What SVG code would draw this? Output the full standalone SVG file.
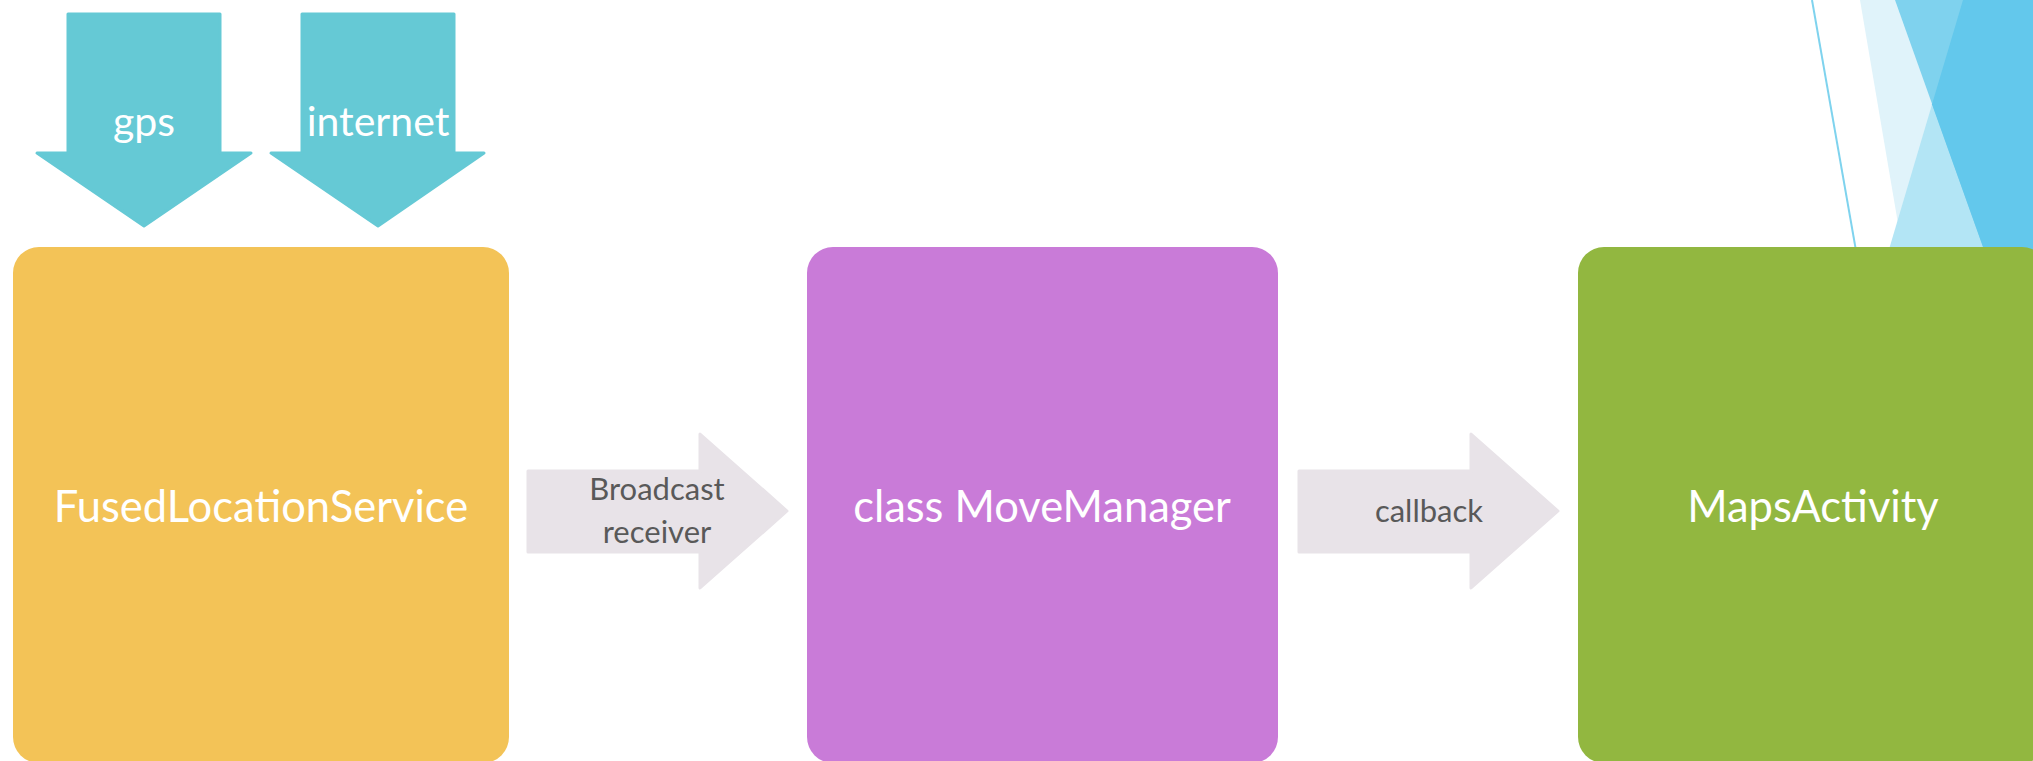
<svg xmlns="http://www.w3.org/2000/svg" width="2033" height="761" viewBox="0 0 2033 761">
<style>
.lbl{font-family:Lato,"Liberation Sans",sans-serif;fill:#ffffff;font-size:43.5px;text-anchor:middle}
.src{font-family:Lato,"Liberation Sans",sans-serif;fill:#ffffff;font-size:41px;text-anchor:middle}
.conn{font-family:Lato,"Liberation Sans",sans-serif;fill:#595959;font-size:31px;text-anchor:middle}
.in{fill:#65c9d5;stroke:#65c9d5;stroke-width:3;stroke-linejoin:round}
.flow{fill:#e8e3e8;stroke:#e8e3e8;stroke-width:3;stroke-linejoin:round}
</style>
<rect x="0" y="0" width="2033" height="761" fill="#ffffff"/>
<g id="decoration">
<polygon points="1860,0 2033,0 2033,300 1911,300" fill="#e0f3fa"/>
<polygon points="1963,0 2033,0 2033,300 1874,300" fill="#b3e5f5"/>
<polygon points="1895,0 2033,0 2033,300 2002,300" fill="#7fd2ee"/>
<polygon points="1963,0 2033,0 2033,300 2002,300 1932,104.3" fill="#63c8ec"/>
<line x1="1812" y1="0" x2="1858" y2="262" stroke="#7fd3ee" stroke-width="2"/>
</g>
<g id="connectors">
<g id="gps-arrow">
<polygon class="in" points="68,14 220,14 220,153 251,153 144,226 37,153 68,153"/>
<text class="src" x="144" y="136">gps</text>
</g>
<g id="internet-arrow">
<polygon class="in" points="302,14 454,14 454,153 484,153 378,226 271,153 302,153"/>
<text class="src" x="378" y="136">internet</text>
</g>
<g id="broadcast-arrow">
<polygon class="flow" points="528,471 700,471 700,434 787,511 700,588 700,552 528,552"/>
<text class="conn" x="657" y="500">Broadcast</text>
<text class="conn" x="657" y="543">receiver</text>
</g>
<g id="callback-arrow">
<polygon class="flow" points="1299,471 1471,471 1471,434 1558,511 1471,588 1471,552 1299,552"/>
<text class="conn" x="1429" y="522">callback</text>
</g>
</g>
<g id="node-fused">
<rect x="13" y="247" width="496" height="516" rx="26" fill="#f3c357"/>
<text class="lbl" x="261" y="522">FusedLocationService</text>
</g>
<g id="node-movemanager">
<rect x="807" y="247" width="471" height="516" rx="26" fill="#c97bd8"/>
<text class="lbl" x="1042" y="522">class MoveManager</text>
</g>
<g id="node-maps">
<rect x="1578" y="247" width="470" height="516" rx="26" fill="#92b740"/>
<text class="lbl" x="1813" y="522">MapsActivity</text>
</g>
</svg>
